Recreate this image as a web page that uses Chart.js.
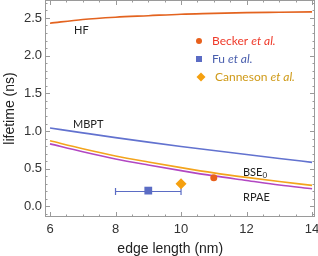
<!DOCTYPE html>
<html>
<head>
<meta charset="utf-8">
<script src="https://cdn.jsdelivr.net/npm/chart.js@4"></script>
<style>
  html, body { margin: 0; padding: 0; background: #fff; }
  #wrap { width: 318px; height: 256px; }
</style>
</head>
<body>
<div id="wrap"><canvas id="c"></canvas></div>
<script>
// ---------- data ----------
const edgeLength = [6, 7, 8, 9, 10, 11, 12, 13, 14];
const hfLifetime   = [2.43, 2.48, 2.51, 2.53, 2.55, 2.56, 2.57, 2.575, 2.58];
const mbptLifetime = [1.04, 0.976, 0.913, 0.853, 0.796, 0.741, 0.688, 0.636, 0.585];
const bseLifetime  = [0.87, 0.765, 0.67, 0.59, 0.515, 0.445, 0.385, 0.33, 0.28];
const rpaeLifetime = [0.83, 0.725, 0.63, 0.55, 0.475, 0.405, 0.345, 0.285, 0.235];

// experiments
const beckerPoint = { x: 11, y: 0.38 };
const fuPoint = { x: 9, y: 0.21 };
const fuRange = [8, 10]; // horizontal error bar
const cannesonPoint = { x: 10, y: 0.30 };

const xTicks = [6, 8, 10, 12, 14];
const yTicks = [0, 0.5, 1.0, 1.5, 2.0, 2.5];

const C = {
  hf: "#e3631f",
  mbpt: "#6272cf",
  bse: "#f3a41c",
  rpae: "#b247c2",
  becker: "#e8601c",
  fu: "#5b6cc4",
  canneson: "#f5a00f",
  frame: "#9a9a9a",
  text: "#222",
};

function pts(ys) {
  return edgeLength.map((x, i) => ({ x, y: ys[i] }));
}

function lineSet(label, ys, color) {
  return {
    type: "line",
    label,
    data: pts(ys),
    borderColor: color,
    borderWidth: 1.6,
    pointRadius: 0,
    cubicInterpolationMode: "monotone",
    fill: false,
    order: 2,
  };
}

// frame with inward ticks, error bar, labels and the legend (Mathematica look)
const decorPlugin = {
  id: "decor",
  beforeDatasetsDraw(chart) {
    const { ctx, scales: { x, y } } = chart;
    ctx.save();
    // Fu error bar
    ctx.strokeStyle = C.fu;
    ctx.lineWidth = 1.2;
    const yp = Math.round(y.getPixelForValue(fuPoint.y)) + 0.5;
    const x0 = x.getPixelForValue(fuRange[0]);
    const x1 = x.getPixelForValue(fuRange[1]);
    ctx.beginPath();
    ctx.moveTo(x0, yp); ctx.lineTo(x1, yp);
    ctx.moveTo(x0, yp - 3.5); ctx.lineTo(x0, yp + 3.5);
    ctx.moveTo(x1, yp - 3.5); ctx.lineTo(x1, yp + 3.5);
    ctx.stroke();
    ctx.restore();
  },
  afterDraw(chart) {
    const { ctx, chartArea: a, scales: { x, y } } = chart;
    ctx.save();
    ctx.strokeStyle = C.frame;
    ctx.lineWidth = 1;
    ctx.strokeRect(a.left + 0.5, a.top + 0.5, a.right - a.left - 1, a.bottom - a.top - 1);

    ctx.beginPath();
    // x ticks every 0.5, major every 2
    for (let v = 6; v <= 14.001; v += 0.5) {
      const px = Math.round(x.getPixelForValue(v)) + 0.5;
      const len = Math.abs(v % 2) < 1e-6 ? 5 : 2.5;
      ctx.moveTo(px, a.bottom); ctx.lineTo(px, a.bottom - len);
      ctx.moveTo(px, a.top); ctx.lineTo(px, a.top + len);
    }
    // y ticks every 0.1, major every 0.5
    for (let i = -1; i <= 27; i++) {
      const v = i / 10;
      const py = Math.round(y.getPixelForValue(v)) + 0.5;
      if (py < a.top || py > a.bottom) continue;
      const len = i % 5 === 0 ? 5 : 2.5;
      ctx.moveTo(a.left, py); ctx.lineTo(a.left + len, py);
      ctx.moveTo(a.right, py); ctx.lineTo(a.right - len, py);
    }
    ctx.stroke();

    // curve labels
    ctx.fillStyle = C.text;
    ctx.font = "11px Lato";
    ctx.textBaseline = "alphabetic";
    ctx.fillText("HF", 74, 34);
    ctx.fillText("MBPT", 73, 128);
    ctx.fillText("BSE", 243, 176);
    const w = ctx.measureText("BSE").width;
    ctx.font = "8px Lato";
    ctx.fillText("0", 243 + w, 178);
    ctx.font = "11px Lato";
    ctx.fillText("RPAE", 243, 201);

    // legend
    const rows = [
      { name: "Becker ", color: "#ef3a2a", marker: "circle", mc: C.becker, yy: 41 },
      { name: "Fu ", color: "#4a5fae", marker: "rect", mc: C.fu, yy: 59 },
      { name: "Canneson ", color: "#cf9a18", marker: "diamond", mc: C.canneson, yy: 77 },
    ];
    ctx.textBaseline = "middle";
    rows.forEach((r) => {
      ctx.fillStyle = r.mc;
      const mx = r.marker === "diamond" ? 201 : 199;
      ctx.beginPath();
      if (r.marker === "circle") ctx.arc(mx, r.yy, 3, 0, Math.PI * 2);
      else if (r.marker === "rect") ctx.rect(mx - 3, r.yy - 3, 6, 6);
      else { ctx.moveTo(mx, r.yy - 4.5); ctx.lineTo(mx + 4.5, r.yy); ctx.lineTo(mx, r.yy + 4.5); ctx.lineTo(mx - 4.5, r.yy); ctx.closePath(); }
      ctx.fill();
      const tx = r.marker === "diamond" ? 215 : 212;
      ctx.fillStyle = r.color;
      ctx.font = "12px Lato";
      ctx.fillText(r.name, tx, r.yy);
      const nw = ctx.measureText(r.name).width;
      ctx.font = "italic 12px Lato";
      ctx.fillText("et al.", tx + nw, r.yy);
    });
    ctx.restore();
  },
};

new Chart(document.getElementById("c"), {
  data: {
    datasets: [
      lineSet("HF", hfLifetime, C.hf),
      lineSet("MBPT", mbptLifetime, C.mbpt),
      lineSet("RPAE", rpaeLifetime, C.rpae),
      lineSet("BSE0", bseLifetime, C.bse),
      { type: "scatter", label: "Becker et al.", data: [beckerPoint], backgroundColor: C.becker, borderWidth: 0, pointStyle: "circle", pointRadius: 3.5, order: 1 },
      { type: "scatter", label: "Fu et al.", data: [fuPoint], backgroundColor: C.fu, borderWidth: 0, pointStyle: "rect", pointRadius: 5.5, order: 1 },
      { type: "scatter", label: "Canneson et al.", data: [cannesonPoint], backgroundColor: C.canneson, borderWidth: 0, pointStyle: "rectRot", pointRadius: 5.5, order: 1 },
    ],
  },
  options: {
    responsive: true,
    maintainAspectRatio: false,
    animation: false,
    layout: { autoPadding: false, padding: { top: 0, right: 3, left: 0, bottom: 0 } },
    plugins: { legend: { display: false }, tooltip: { enabled: false } },
    scales: {
      x: {
        type: "linear",
        min: 5.847,
        max: 14.09,
        afterBuildTicks: (s) => { s.ticks = xTicks.map((v) => ({ value: v })); },
        afterFit: (s) => { s.height = 39; s.paddingLeft = 0; s.paddingRight = 0; },
        grid: { display: false, drawTicks: false },
        border: { display: false },
        ticks: { color: "#333", padding: 5, font: { family: "Liberation Sans", size: 13 } },
        title: { display: true, text: "edge length (nm)     ", color: "#222", padding: 0, font: { family: "Liberation Sans", size: 14, lineHeight: 1 } },
      },
      y: {
        type: "linear",
        min: -0.14,
        max: 2.738,
        afterBuildTicks: (s) => { s.ticks = yTicks.map((v) => ({ value: v })); },
        afterFit: (s) => { s.width = 45; s.paddingTop = 0; s.paddingBottom = 0; },
        grid: { display: false, drawTicks: false },
        border: { display: false },
        ticks: { color: "#333", padding: 3, font: { family: "Liberation Sans", size: 13 }, callback: (v) => Number(v).toFixed(1) },
        title: { display: true, text: "lifetime (ns)", color: "#222", padding: 3, font: { family: "Liberation Sans", size: 14, lineHeight: 1 } },
      },
    },
  },
  plugins: [decorPlugin],
});
</script>
</body>
</html>
